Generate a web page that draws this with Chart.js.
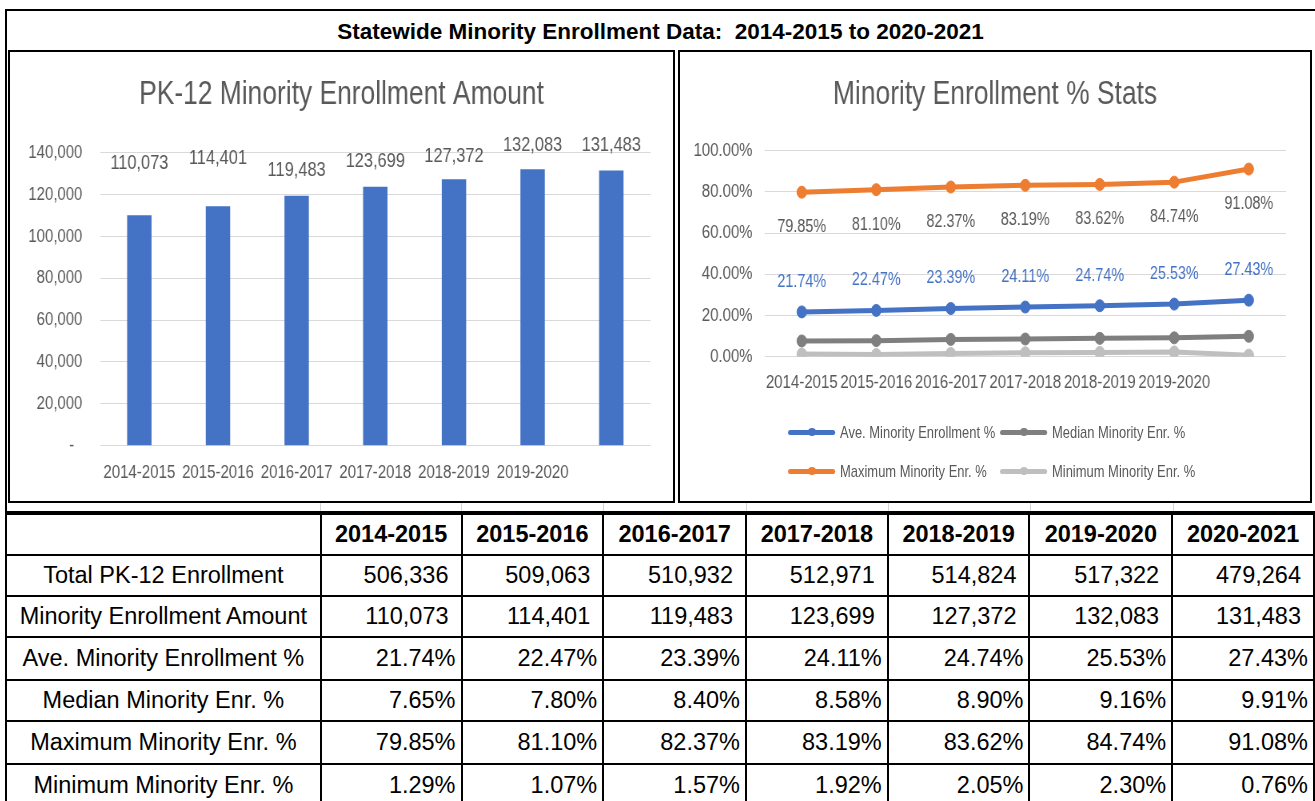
<!DOCTYPE html>
<html><head><meta charset="utf-8">
<script src="https://cdn.jsdelivr.net/npm/chart.js@4.4.1/dist/chart.umd.min.js"></script>
<style>
html,body{margin:0;padding:0;background:#fff;overflow:hidden;width:1315px;height:801px;position:relative}
#frame{position:absolute;left:5px;top:9px;width:1330px;height:820px;border-left:2px solid #000;border-top:2px solid #000;box-sizing:border-box}
#mainTitle{position:absolute;left:0;width:1321px;top:18px;text-align:center;font:bold 22.5px 'Liberation Sans',Arial,sans-serif;line-height:28px;color:#000;white-space:pre}
.box{position:absolute;top:50px;height:449px;border:2px solid #000;background:#fff;overflow:hidden}
#boxL{left:8px;width:663px}
#boxR{left:678px;width:630px}
canvas{display:block}
.cellLine{position:absolute;top:503px;height:8px;width:1px;background:#D4D4D4}
#legend{position:absolute;left:108px;top:368px;display:grid;grid-template-columns:265px auto;row-gap:15px;
  transform:scaleX(0.8);transform-origin:0 0;
  font:16.2px 'Liberation Sans',Arial,sans-serif;color:#595959}
.li{display:flex;align-items:center;height:24px;white-space:nowrap}
.mk{position:relative;width:59px;height:5px;border-radius:3px;margin-right:6px;flex:none}
.mk i{position:absolute;left:24.5px;top:-1.5px;width:10px;height:8px;border-radius:50%}
#tbl{position:absolute;left:5px;top:511px;border-collapse:separate;border-spacing:0;table-layout:fixed;
  border-left:2px solid #000;border-top:4px solid #000;font:23.5px 'Liberation Sans',Arial,sans-serif;color:#000}
#tbl td{border-right:2px solid #000;border-bottom:2px solid #000;padding:0;white-space:nowrap;overflow:hidden;box-sizing:border-box;vertical-align:middle}
#tbl td.lab{text-align:center}
#tbl td.hd{text-align:center;font-weight:bold}
#tbl td.num{text-align:right;padding-right:12px}
#tbl td.pct{text-align:right;padding-right:5px}
</style></head>
<body>
<div id="frame"></div>
<div id="mainTitle"></div>
<div class="box" id="boxL"><canvas id="barChart" width="829" height="449" style="width:663px;height:449px"></canvas></div>
<div class="box" id="boxR"><canvas id="lineChart" width="788" height="449" style="width:630px;height:449px"></canvas><div id="legend"></div></div>
<table id="tbl"></table>
<script>
// ---------- data ----------
const mainTitleText = 'Statewide Minority Enrollment Data:  2014-2015 to 2020-2021';
const years = ['2014-2015','2015-2016','2016-2017','2017-2018','2018-2019','2019-2020','2020-2021'];
const axisYearLabels = ['2014-2015','2015-2016','2016-2017','2017-2018','2018-2019','2019-2020',''];
const totalEnrollment = [506336,509063,510932,512971,514824,517322,479264];
const minorityAmount = [110073,114401,119483,123699,127372,132083,131483];
const avePct = [21.74,22.47,23.39,24.11,24.74,25.53,27.43];
const medianPct = [7.65,7.80,8.40,8.58,8.90,9.16,9.91];
const maxPct = [79.85,81.10,82.37,83.19,83.62,84.74,91.08];
const minPct = [1.29,1.07,1.57,1.92,2.05,2.30,0.76];
const rowLabels = ['Total PK-12 Enrollment','Minority Enrollment Amount','Ave. Minority Enrollment %','Median Minority Enr. %','Maximum Minority Enr. %','Minimum Minority Enr. %'];
const barTitle = 'PK-12 Minority Enrollment Amount';
const lineTitle = 'Minority Enrollment % Stats';

// ---------- helpers ----------
const FONT = "'Liberation Sans',Arial,sans-serif";
const GREY = '#595959';
const fmtInt = v => String(Math.round(v)).replace(/\B(?=(\d{3})+(?!\d))/g, ',');
const fmtPct = v => v.toFixed(2) + '%';

document.getElementById('mainTitle').textContent = mainTitleText;

// ---------- table ----------
(function(){
  const tbl = document.getElementById('tbl');
  const colW = [315,141,142,143,142,142,143,142];
  const cg = document.createElement('colgroup');
  let x = 7;
  colW.forEach(w=>{
    const c=document.createElement('col');c.style.width=w+'px';cg.appendChild(c);
    x += w;
    const g = document.createElement('div'); g.className='cellLine'; g.style.left=(x-2)+'px'; document.body.appendChild(g);
  });
  tbl.appendChild(cg);
  const rowH = [41,41,41,43,41,43,42];
  const rows = [
    [totalEnrollment,'num',fmtInt],
    [minorityAmount,'num',fmtInt],
    [avePct,'pct',fmtPct],
    [medianPct,'pct',fmtPct],
    [maxPct,'pct',fmtPct],
    [minPct,'pct',fmtPct]
  ];
  let tr = document.createElement('tr'); tr.style.height = rowH[0]+'px';
  let td = document.createElement('td'); td.className='lab'; tr.appendChild(td);
  years.forEach(y=>{const c=document.createElement('td');c.className='hd';c.textContent=y;tr.appendChild(c);});
  tbl.appendChild(tr);
  rows.forEach((r,ri)=>{
    tr = document.createElement('tr'); tr.style.height = rowH[ri+1]+'px';
    td = document.createElement('td'); td.className='lab'; td.textContent=rowLabels[ri]; tr.appendChild(td);
    r[0].forEach(v=>{const c=document.createElement('td');c.className=r[1];c.textContent=r[2](v);tr.appendChild(c);});
    tbl.appendChild(tr);
  });
})();

// ---------- bar chart ----------
const barLabelPlugin = {
  id:'barLabelPlugin',
  afterDatasetsDraw(chart, args, opts){
    const ctx = chart.ctx, meta = chart.getDatasetMeta(0), data = chart.data.datasets[0].data;
    ctx.save();
    ctx.font = '20.5px ' + FONT; ctx.fillStyle = GREY; ctx.textAlign='center'; ctx.textBaseline='middle';
    meta.data.forEach((el,i)=>{ ctx.fillText(fmtInt(data[i]), el.x, el.y - opts.lift[i]); });
    ctx.restore();
  }
};
const spacerAxis = w => ({ position:'right', display:true, grid:{display:false, drawTicks:false}, border:{display:false},
  ticks:{display:false}, afterFit:s=>{ s.width = w; } });

new Chart(document.getElementById('barChart'), {
  type:'bar',
  data:{ labels: years, datasets:[{ label:'Minority Enrollment Amount', data: minorityAmount, backgroundColor:'#4472C4', borderWidth:0, barPercentage:0.31, categoryPercentage:1 }]},
  options:{
    responsive:false, animation:false, devicePixelRatio:1,
    layout:{ padding:0 },
    plugins:{
      legend:{display:false}, tooltip:{enabled:false},
      title:{ display:true, text: barTitle, color:GREY, font:{family:FONT, size:33, weight:'normal'}, padding:{top:23.2, bottom:37.9} },
      barLabelPlugin:{ lift:[52,48,25,25,23,24,25] }
    },
    scales:{
      x:{ grid:{display:false, drawTicks:false}, border:{display:false},
          ticks:{ color:GREY, font:{family:FONT, size:18.8}, padding:16.3, autoSkip:false, maxRotation:0, minRotation:0,
                  callback:(v,i)=>axisYearLabels[i] },
          afterFit:s=>{ s.height = 55.3; } },
      y:{ min:0, max:140000, grid:{color:'#D9D9D9', lineWidth:1, drawTicks:false}, border:{display:false},
          ticks:{ stepSize:20000, color:GREY, font:{family:FONT, size:18.7}, padding:22,
                  callback:v=> v===0 ? '-  ' : fmtInt(v) },
          afterFit:s=>{ s.width = 112.5; } },
      yR: spacerAxis(28)
    }
  },
  plugins:[barLabelPlugin]
});

// ---------- line chart ----------
const seriesDefs = [
  { label: rowLabels[2], data: avePct,    color:'#4472C4' },
  { label: rowLabels[3], data: medianPct, color:'#7F7F7F' },
  { label: rowLabels[4], data: maxPct,    color:'#ED7D31' },
  { label: rowLabels[5], data: minPct,    color:'#BFBFBF' }
];
const lineLabelPlugin = {
  id:'lineLabelPlugin',
  afterDatasetsDraw(chart, args, opts){
    const ctx = chart.ctx;
    ctx.save();
    ctx.font = '18px ' + FONT; ctx.textAlign='center'; ctx.textBaseline='middle';
    opts.items.forEach(it=>{
      const meta = chart.getDatasetMeta(it.ds), data = chart.data.datasets[it.ds].data;
      ctx.fillStyle = it.color;
      meta.data.forEach((el,i)=>{ ctx.fillText(fmtPct(data[i]), el.x, el.y + it.dy); });
    });
    ctx.restore();
  }
};
const lineChart = new Chart(document.getElementById('lineChart'), {
  type:'line',
  data:{ labels: years, datasets: seriesDefs.map(s=>({
    label:s.label, data:s.data, borderColor:s.color, backgroundColor:s.color,
    pointBackgroundColor:s.color, pointBorderColor:s.color, borderWidth:5, pointRadius:6, pointBorderWidth:1,
    tension:0, borderCapStyle:'round', borderJoinStyle:'round', fill:false, yAxisID:'y'
  }))},
  options:{
    responsive:false, animation:false, devicePixelRatio:1,
    layout:{ padding:0 },
    plugins:{
      legend:{display:false}, tooltip:{enabled:false},
      title:{ display:true, text: lineTitle, color:GREY, font:{family:FONT, size:33, weight:'normal'}, padding:{top:23.2, bottom:35.9} },
      lineLabelPlugin:{ items:[ {ds:0, dy:-30, color:'#4472C4'}, {ds:2, dy:35, color:GREY} ] }
    },
    scales:{
      x:{ offset:true, grid:{display:false, drawTicks:false, offset:true}, border:{display:false},
          ticks:{ color:GREY, font:{family:FONT, size:18.8}, padding:15.3, autoSkip:false, maxRotation:0, minRotation:0,
                  callback:(v,i)=>axisYearLabels[i] },
          afterFit:s=>{ s.height = 144.3; } },
      y:{ min:0, max:100, grid:{color:'#D9D9D9', lineWidth:1, drawTicks:false}, border:{display:false},
          ticks:{ stepSize:20, color:GREY, font:{family:FONT, size:18.7}, padding:15, callback:v=>fmtPct(v) },
          afterFit:s=>{ s.width = 105.7; } },
      yR: spacerAxis(30)
    }
  },
  plugins:[lineLabelPlugin]
});

// ---------- legend (from chart datasets) ----------
(function(){
  const lg = document.getElementById('legend');
  lineChart.data.datasets.forEach(ds=>{
    const item = document.createElement('div'); item.className='li';
    const mk = document.createElement('span'); mk.className='mk'; mk.style.background = ds.borderColor;
    const dot = document.createElement('i'); dot.style.background = ds.borderColor; mk.appendChild(dot);
    const tx = document.createElement('span'); tx.textContent = ds.label;
    item.appendChild(mk); item.appendChild(tx); lg.appendChild(item);
  });
})();
</script>
</body></html>
